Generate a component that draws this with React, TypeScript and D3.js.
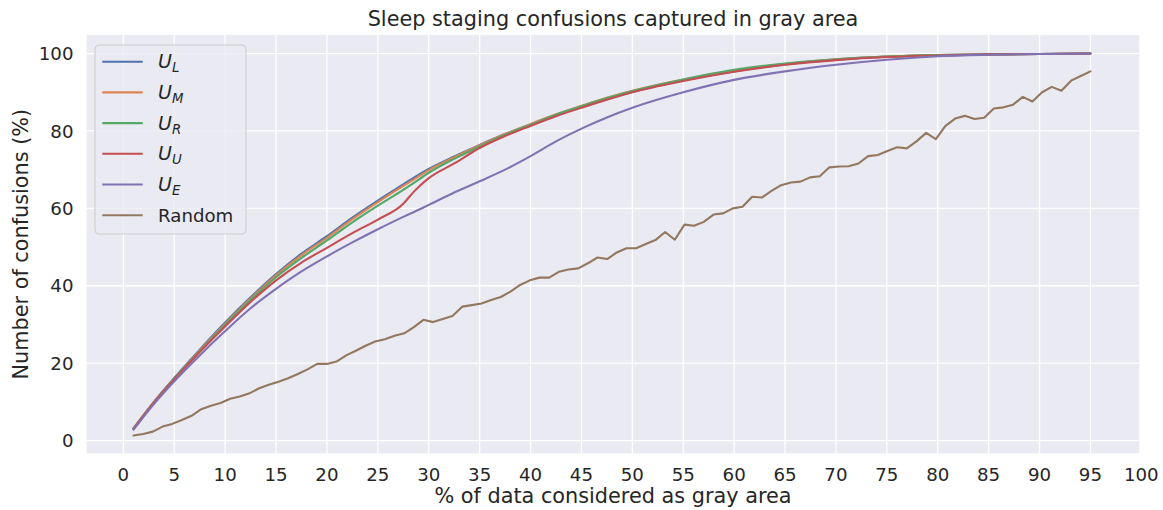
import React from "react";
import * as d3 from "d3";

// ---------- data ----------
const U_X = [1, 3, 5, 7.5, 10, 12.5, 15, 17.5, 20, 22.5, 25, 27.5, 28.5, 30, 32.5, 35, 37.5, 40, 42.5, 45, 47.5, 50, 55, 60, 65, 70, 75, 80, 85, 90, 95];

const U_L = [3.2, 10.0, 16.2, 23.5, 30.5, 37.0, 43.0, 48.3, 52.8, 57.6, 62.0, 66.2, 67.9, 70.2, 73.4, 76.4, 79.2, 81.7, 84.1, 86.3, 88.3, 90.1, 93.1, 95.4, 97.2, 98.4, 99.2, 99.6, 99.8, 99.9, 100.0];
const U_M = [3.1, 9.9, 16.0, 23.3, 30.2, 36.7, 42.7, 47.9, 52.4, 57.2, 61.6, 65.8, 67.4, 69.9, 73.2, 76.3, 79.2, 81.8, 84.3, 86.5, 88.6, 90.4, 93.3, 95.6, 97.3, 98.5, 99.2, 99.6, 99.8, 99.9, 100.0];
const U_R = [3.0, 9.8, 15.9, 23.0, 29.9, 36.3, 42.2, 47.2, 51.7, 56.4, 60.7, 64.8, 66.5, 69.2, 72.8, 76.0, 79.0, 81.6, 84.2, 86.4, 88.5, 90.3, 93.3, 95.8, 97.4, 98.5, 99.2, 99.6, 99.8, 99.9, 100.0];
const U_U = [3.0, 9.8, 15.8, 22.9, 29.5, 35.8, 41.4, 46.0, 49.8, 53.6, 57.1, 61.2, 64.2, 67.8, 71.6, 75.6, 78.7, 81.3, 83.8, 86.0, 88.1, 90.0, 92.9, 95.3, 97.1, 98.3, 99.1, 99.5, 99.8, 99.9, 100.0];
const U_E = [2.8, 9.4, 15.3, 22.0, 28.3, 34.2, 39.2, 43.7, 47.6, 51.2, 54.6, 57.8, 59.0, 60.9, 64.1, 67.0, 70.0, 73.5, 77.3, 80.6, 83.5, 86.0, 90.0, 93.2, 95.4, 97.1, 98.4, 99.3, 99.7, 99.9, 100.0];

const RANDOM_X = [
  1.00, 1.95, 2.90, 3.85, 4.80, 5.75, 6.70, 7.65, 8.60, 9.55,
  10.49, 11.44, 12.39, 13.34, 14.29, 15.24, 16.19, 17.14, 18.09, 19.04,
  19.99, 20.94, 21.89, 22.84, 23.79, 24.74, 25.69, 26.64, 27.59, 28.54,
  29.48, 30.43, 31.38, 32.33, 33.28, 34.23, 35.18, 36.13, 37.08, 38.03,
  38.98, 39.93, 40.88, 41.83, 42.78, 43.73, 44.68, 45.63, 46.58, 47.53,
  48.47, 49.42, 50.37, 51.32, 52.27, 53.22, 54.17, 55.12, 56.07, 57.02,
  57.97, 58.92, 59.87, 60.82, 61.77, 62.72, 63.67, 64.62, 65.57, 66.52,
  67.46, 68.41, 69.36, 70.31, 71.26, 72.21, 73.16, 74.11, 75.06, 76.01,
  76.96, 77.91, 78.86, 79.81, 80.76, 81.71, 82.66, 83.61, 84.56, 85.51,
  86.45, 87.40, 88.35, 89.30, 90.25, 91.20, 92.15, 93.10, 94.05, 95.00,
];
const RANDOM = [
  1.3, 1.7, 2.3, 3.6, 4.3, 5.3, 6.4, 8.1, 9.0, 9.7,
  10.8, 11.4, 12.2, 13.5, 14.4, 15.2, 16.1, 17.2, 18.4, 19.8,
  19.8, 20.4, 22.0, 23.2, 24.5, 25.6, 26.2, 27.1, 27.7, 29.3,
  31.2, 30.6, 31.4, 32.2, 34.6, 35.0, 35.4, 36.3, 37.1, 38.5,
  40.2, 41.4, 42.1, 42.1, 43.6, 44.2, 44.5, 45.8, 47.3, 46.9,
  48.6, 49.7, 49.7, 50.8, 51.8, 53.9, 51.9, 55.8, 55.5, 56.5,
  58.4, 58.7, 60.0, 60.4, 63.0, 62.8, 64.5, 66.0, 66.7, 66.9,
  68.0, 68.3, 70.6, 70.8, 70.9, 71.6, 73.5, 73.8, 74.8, 75.8,
  75.5, 77.3, 79.5, 77.9, 81.3, 83.2, 83.9, 83.1, 83.4, 85.8,
  86.1, 86.8, 88.8, 87.6, 90.0, 91.4, 90.4, 93.0, 94.2, 95.4,
];

const X_TICKS = [0, 5, 10, 15, 20, 25, 30, 35, 40, 45, 50, 55, 60, 65, 70, 75, 80, 85, 90, 95, 100];
const Y_TICKS = [0, 20, 40, 60, 80, 100];

const TITLE = "Sleep staging confusions captured in gray area";
const X_LABEL = "% of data considered as gray area";
const Y_LABEL = "Number of confusions (%)";

const SERIES = [
  { key: "L", x: U_X, y: U_L, color: "#4C72B0", sub: "L" },
  { key: "M", x: U_X, y: U_M, color: "#DD8452", sub: "M" },
  { key: "R", x: U_X, y: U_R, color: "#55A868", sub: "R" },
  { key: "U", x: U_X, y: U_U, color: "#C44E52", sub: "U" },
  { key: "E", x: U_X, y: U_E, color: "#8172B3", sub: "E" },
  { key: "Random", x: RANDOM_X, y: RANDOM, color: "#937860", sub: null },
];

// ---------- layout ----------
const W = 1163;
const H = 510;
const PL = 86.7, PR = 1139.3, PT = 35, PB = 453.3;
const FONT = "DejaVu Sans, sans-serif";
const TEXT = "#262626";

export default function App() {
  const x = d3.scaleLinear().domain([-3.6, 99.8]).range([PL, PR]);
  const y = d3.scaleLinear().domain([-3.3, 104.8]).range([PB, PT]);

  const gridX = X_TICKS.filter((t) => x(t) <= PR + 0.5);

  const lineGen = (xs: number[], ys: number[], smooth: boolean) => {
    const g = d3
      .line<number>()
      .x((_, i) => x(xs[i]))
      .y((d) => y(d));
    if (smooth) g.curve(d3.curveMonotoneX);
    return g(ys) || "";
  };

  const legendX = 95, legendY = 45, legendW = 151, legendH = 189;
  const rowY = (i: number) => 61.7 + i * 30.7;

  return (
    <svg
      width={W}
      height={H}
      style={{ position: "absolute", left: 0, top: 0, background: "#fff" }}
      fontFamily={FONT}
    >
      <rect x={0} y={0} width={W} height={H} fill="#fff" />
      <rect x={PL} y={PT} width={PR - PL} height={PB - PT} fill="#EAEAF2" />
      {/* grid */}
      {gridX.map((t) => (
        <line key={"gx" + t} x1={x(t)} x2={x(t)} y1={PT} y2={PB} stroke="#fff" strokeWidth={1.3} />
      ))}
      {Y_TICKS.map((t) => (
        <line key={"gy" + t} x1={PL} x2={PR} y1={y(t)} y2={y(t)} stroke="#fff" strokeWidth={1.3} />
      ))}
      {/* lines */}
      {SERIES.map((s) => (
        <path
          key={s.key}
          d={lineGen(s.x, s.y, s.sub !== null)}
          fill="none"
          stroke={s.color}
          strokeWidth={2.1}
          strokeLinejoin="round"
          strokeLinecap="round"
        />
      ))}
      {/* tick labels */}
      {X_TICKS.map((t) => (
        <text key={"xt" + t} x={x(t)} y={481} textAnchor="middle" fontSize={18.2} fill={TEXT}>
          {t}
        </text>
      ))}
      {Y_TICKS.map((t) => (
        <text key={"yt" + t} x={73.5} y={y(t) + 6.6} textAnchor="end" fontSize={18.2} fill={TEXT}>
          {t}
        </text>
      ))}
      {/* labels */}
      <text x={(PL + PR) / 2} y={26} textAnchor="middle" fontSize={20.8} fill={TEXT}>
        {TITLE}
      </text>
      <text x={(PL + PR) / 2} y={503} textAnchor="middle" fontSize={20.8} fill={TEXT}>
        {X_LABEL}
      </text>
      <text
        transform={`translate(28, ${(PT + PB) / 2}) rotate(-90)`}
        textAnchor="middle"
        fontSize={20.8}
        fill={TEXT}
      >
        {Y_LABEL}
      </text>
      {/* legend */}
      <rect
        x={legendX}
        y={legendY}
        width={legendW}
        height={legendH}
        rx={4}
        ry={4}
        fill="#EAEAF2"
        fillOpacity={0.8}
        stroke="#CCCCCC"
        strokeWidth={1}
      />
      {SERIES.map((s, i) => (
        <g key={"lg" + s.key}>
          <line x1={102.3} x2={142.7} y1={rowY(i)} y2={rowY(i)} stroke={s.color} strokeWidth={2.1} />
          {s.sub ? (
            <text x={158} y={rowY(i) + 6.6} fontSize={19} fill={TEXT}>
              <tspan fontStyle="italic">U</tspan>
              <tspan fontStyle="italic" fontSize={13.3} dy={4}>
                {s.sub}
              </tspan>
            </text>
          ) : (
            <text x={158} y={rowY(i) + 6.6} fontSize={18.2} fill={TEXT}>
              {s.key}
            </text>
          )}
        </g>
      ))}
    </svg>
  );
}
